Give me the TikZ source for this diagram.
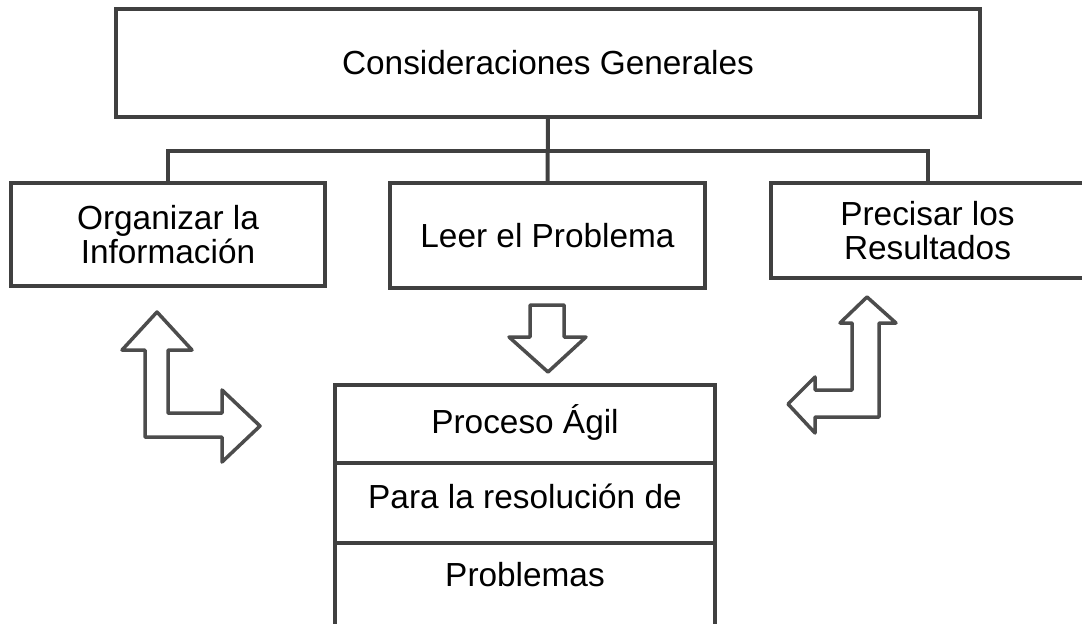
\documentclass[tikz,border=0pt]{standalone}
\usepackage{fontspec}
\setmainfont{Liberation Sans}
\usepackage{tikz}
\usetikzlibrary{positioning}

\begin{document}
\begin{tikzpicture}[box/.style={draw=black!75,line width=4bp,fill=white,inner sep=0pt,outer sep=0pt,align=center,font=\fontsize{33.5}{34}\selectfont},
  row/.style={box,minimum width=380bp,text height=24bp},
  blk/.style={draw=black!70,line width=3.5bp,line join=round,fill=white}]

\clip (0bp,0bp) rectangle (1082bp,-624bp);

\node (gen) at (548bp,-63bp)[box,minimum width=864bp,minimum height=108bp] {Consideraciones Generales};
\node (org) at (168bp,-234.5bp)[box,minimum width=314bp,minimum height=103bp] {Organizar la\\Información};
\node (leer) at (547.5bp,-235.5bp)[box,minimum width=315bp,minimum height=105bp] {Leer el Problema};
\node (pre) at (927.5bp,-230.5bp)[box,minimum width=313bp,minimum height=95bp] {Precisar los\\Resultados};
\node (row1) at (525bp,-424bp)[row,minimum height=78bp,text depth=4.5bp] {Proceso Ágil};
\node (row2) [row,minimum height=80bp,text depth=14bp,below=0pt of row1] {Para la resolución de};
\node (row3) [row,minimum height=85bp,text depth=23bp,below=0pt of row2] {Problemas};

\draw [line width=4bp,draw=black!75] (gen.south) to (leer.north);
\draw [line width=4bp,draw=black!75] (org.north) -- ++(0bp,32bp) -| (pre.north);

\draw [blk] (530bp,-305bp) -- (564bp,-305bp) -- (564bp,-337bp) -- (586bp,-337bp) -- (548bp,-372bp) -- (509bp,-337bp) -- (530bp,-337bp) -- cycle;
\draw [blk] (157bp,-312bp) -- (192bp,-350bp) -- (168bp,-350bp) -- (168bp,-413bp) -- (222bp,-413bp) -- (222bp,-390bp) -- (260bp,-426bp) -- (222bp,-462bp) -- (222bp,-437bp) -- (145bp,-437bp) -- (145bp,-350bp) -- (122bp,-350bp) -- cycle;
\draw [blk] (867bp,-297bp) -- (896bp,-323bp) -- (879bp,-323bp) -- (879bp,-417bp) -- (815bp,-417bp) -- (815bp,-433bp) -- (788bp,-404bp) -- (815bp,-377bp) -- (815bp,-390bp) -- (852bp,-390bp) -- (852bp,-323bp) -- (840bp,-323bp) -- cycle;
\end{tikzpicture}
\end{document}
